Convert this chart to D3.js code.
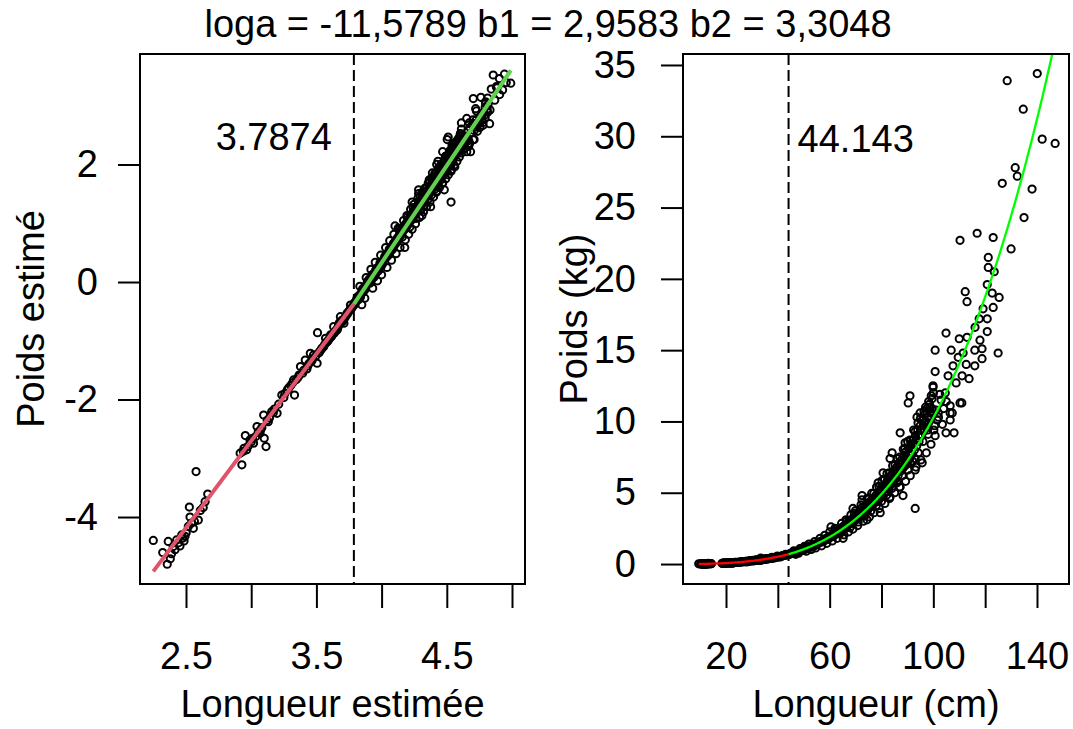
<!DOCTYPE html>
<html>
<head>
<meta charset="utf-8">
<script src="https://d3js.org/d3.v7.min.js"></script>
<style>
  body { margin: 0; background: #fff; }
  text { font-family: "Liberation Sans", Arial, sans-serif; font-size: 38px; fill: #000; }
</style>
</head>
<body>
<svg id="chart" width="1073" height="729"></svg>
<script>
// fish measurements: [length (cm), weight (kg)]
const fish = [
  // small fish
  [9.48,0.0123],[10.19,0.0100],[10.55,0.0082],[10.63,0.0121],[11.04,0.0111],[11.34,0.0124],[11.63,0.0112],
  [11.79,0.0135],[12.09,0.0132],[12.40,0.0156],[12.50,0.0217],[12.56,0.0183],[12.89,0.0151],[13.16,0.0397],
  [13.39,0.0174],[14.10,0.0238],[14.39,0.0271],[10.9,0.0098],[11.2,0.0105],[11.9,0.0128],[12.2,0.0140],
  [12.7,0.0165],[13.0,0.0170],[13.6,0.0205],[13.9,0.0215],[11.5,0.0118],[12.0,0.0122],[10.8,0.0090],
  [19.2,0.0733],[18.7,0.0445],[18.45,0.0543],[20.45,0.0644],[21.0,0.0855],[22.2,0.0700],[22.5,0.0608],
  [22.1,0.104],[23.5,0.110],[19.4,0.0575],[19.9,0.0680],[21.5,0.0763],[22.9,0.0927],[24.5,0.107],
  [18.9,0.0560],[19.6,0.0610],[20.1,0.0660],[20.8,0.0720],[21.2,0.0780],[21.8,0.0840],[22.7,0.0950],
  [23.1,0.0990],[23.8,0.1080],[20.3,0.0700],[21.6,0.0810],[19.0,0.0590],
  [25.4,0.146],[28.0,0.146],[27.8,0.189],[29.3,0.237],[30.4,0.265],[33.3,0.251],[32.4,0.289],[31.6,0.297],
  [33.4,0.422],[35.5,0.384],[35.0,0.332],[37.8,0.468],[39.8,0.554],[41.9,0.587],[40.9,0.496],[43.0,0.676],
  [38.8,0.442],[36.9,0.406],[26.5,0.160],[27.2,0.172],[28.8,0.198],[29.8,0.212],[31.0,0.240],[32.0,0.262],
  [34.0,0.308],[34.6,0.325],[36.2,0.370],[37.2,0.398],[38.2,0.430],[39.2,0.475],[40.2,0.520],[41.2,0.545],
  [42.3,0.600],[43.6,0.650],[42.8,0.620],[39.5,0.500],[37.5,0.410],[35.8,0.360],[30.8,0.228],[26.0,0.150],
  [24.0,0.115],[24.8,0.125],[25.8,0.140],[26.8,0.165],[27.6,0.180],[28.4,0.190],[29.0,0.205],[30.0,0.222],
  [31.3,0.250],[32.2,0.272],[33.0,0.285],[33.8,0.300],[34.4,0.318],[35.3,0.345],[36.0,0.362],[36.6,0.380],
  [37.0,0.392],[38.0,0.420],[38.5,0.440],[39.0,0.455],[40.0,0.500],[40.6,0.515],[41.5,0.560],[42.0,0.580],
  [42.6,0.610],[43.3,0.640],[44.0,0.670],
  // dense band
  [44.3,0.70],[44.8,0.72],[45.2,0.76],[45.7,0.74],[46.1,0.80],[46.6,0.82],[47.0,0.86],[47.4,0.84],
  [47.9,0.92],[48.3,0.90],[48.8,0.97],[49.2,0.99],[49.6,1.05],[50.1,1.02],[50.5,1.10],[50.9,1.06],
  [51.3,1.15],[51.8,1.12],[52.2,1.22],[52.6,1.18],[53.0,1.28],[53.5,1.24],[53.9,1.38],[54.4,1.30],
  [54.8,1.42],[55.2,1.40],[55.7,1.48],[56.1,1.55],[56.6,1.52],[57.0,1.62],[57.5,1.58],[57.9,1.75],
  [58.4,1.68],[58.8,1.80],[59.3,1.74],[59.7,1.92],[60.2,1.86],
  [60.8,2.00],[61.2,1.95],[61.7,2.12],[62.1,2.05],[62.6,2.25],[63.0,2.18],[63.5,2.40],[63.9,2.30],
  [64.4,2.52],[64.8,2.42],[65.3,2.65],[65.7,2.50],[66.2,2.75],[66.6,2.62],[67.1,2.90],[67.5,2.80],
  [68.0,3.05],[68.4,2.85],[68.9,3.20],[69.3,3.00],[69.8,3.35],[70.2,3.10],
  [70.6,3.45],[71.1,3.25],[71.5,3.60],[72.0,3.40],[72.4,3.75],[72.9,3.55],[73.3,3.95],[73.8,3.70],
  [74.2,4.10],[74.7,3.80],[75.1,4.30],[75.6,4.00],[76.0,4.45],[76.5,4.15],[76.9,4.60],[77.4,4.35],
  [77.8,4.80],[78.3,4.40],[78.7,5.00],[79.2,4.60],[79.6,5.20],[80.1,4.80],
  [80.5,5.40],[81.0,5.00],[81.4,5.60],[81.9,5.10],[82.3,5.85],[82.8,5.40],[83.2,6.10],[83.7,5.60],
  [84.1,6.30],[84.6,5.80],[85.0,6.60],[85.5,6.00],[85.9,6.80],[86.4,6.20],[86.8,7.10],[87.3,6.50],
  [87.7,7.30],[88.2,6.70],[88.6,7.60],[89.1,6.90],[89.5,7.90],[90.0,7.10],
  [90.4,8.10],[90.9,7.40],[91.3,8.40],[91.8,7.70],[92.2,8.70],[92.7,8.00],[93.1,9.00],[93.6,8.30],
  [94.0,9.40],[94.5,8.60],[94.9,9.70],[95.4,9.00],[95.8,10.1],[96.3,9.30],[96.7,10.5],[97.2,9.60],
  [97.6,10.9],[98.1,9.90],[98.5,11.2],[99.0,10.2],[99.5,11.6],[100.0,10.5],
  [44.6,0.69],[45.5,0.78],[46.4,0.77],[47.2,0.89],[48.1,0.88],[49.0,1.01],[49.9,0.98],[50.7,1.13],
  [51.6,1.09],[52.4,1.25],[53.3,1.21],[54.1,1.35],[55.0,1.36],[55.9,1.53],[56.8,1.58],[57.7,1.64],
  [58.6,1.77],[59.5,1.83],[60.4,1.98],[61.4,2.08],[62.3,2.15],[63.2,2.32],[64.2,2.38],[65.0,2.58],
  [66.0,2.68],[66.9,2.75],[67.9,2.98],[68.7,3.10],[69.6,3.25],[70.4,3.30],[71.3,3.50],[72.2,3.60],
  [73.1,3.78],[74.0,3.90],[74.9,4.10],[75.8,4.25],[76.7,4.38],[77.6,4.60],[78.5,4.75],[79.4,4.95],
  [80.3,5.10],[81.6,5.30],[82.5,5.55],[83.5,5.90],[84.4,6.00],[85.3,6.30],[86.2,6.55],[87.1,6.80],
  [88.0,7.00],[88.9,7.30],[89.8,7.50],[90.7,7.80],[91.6,8.10],[92.5,8.40],[93.4,8.70],[94.3,9.00],
  [95.2,9.40],[96.1,9.70],[97.0,10.0],[97.9,10.3],[98.9,10.7],
  [46.2,0.93],[46.9,0.68],[48.5,1.08],[48.0,0.76],[50.3,1.24],[51.0,0.90],[52.0,1.40],[52.9,1.02],
  [54.2,1.58],[54.6,1.13],[56.3,1.80],[56.9,1.28],[58.1,2.02],[58.9,1.45],[60.0,2.25],[61.0,1.62],
  [62.0,2.50],[62.9,1.80],[64.6,2.85],[65.5,2.05],[66.3,3.10],[67.2,2.25],[68.2,3.45],[69.0,2.45],
  [70.0,3.75],[70.8,2.70],[72.1,4.15],[73.0,3.00],[74.5,4.60],[75.3,3.30],[76.2,4.95],[77.1,3.60],
  [78.1,5.40],[79.1,3.90],[80.2,5.85],[81.3,4.25],[82.1,6.35],[83.1,4.60],[84.3,6.90],[85.1,5.00],
  [86.1,7.40],[87.0,5.40],[88.4,8.05],[89.3,5.80],[90.1,8.60],[91.1,6.20],[92.4,9.40],[93.3,6.80],
  [94.1,9.90],[95.2,7.30],[96.4,10.7],[97.3,7.80],[98.2,11.4],[99.1,8.40],
  [62.5,2.45],[64.0,2.15],[66.5,3.00],[67.8,2.55],[69.5,3.55],[71.0,2.95],[72.5,3.95],[73.5,3.35],
  [75.0,4.55],[75.8,3.70],[77.0,4.95],[78.0,4.10],[79.0,5.45],[80.0,4.40],[81.2,5.95],[82.0,4.85],
  [83.0,6.40],[84.0,5.30],[85.2,6.95],[86.0,5.70],[87.0,7.50],[88.0,6.20],[89.0,8.10],[90.2,6.60],
  [91.0,8.70],[92.0,7.20],[93.0,9.30],[94.2,7.80],[95.0,10.2],[96.0,8.60],[97.0,11.0],[98.0,9.10],
  [99.2,11.8],[100.5,9.70],
  [91,11.8],[90.3,11.3],[99.9,12.4],[111,11.3],[107.3,10.6],[106.5,10.1],[108,9.2],[104.9,9.2],
  [101.5,10.1],[100.7,9.0],[87.2,9.2],[93.7,10.3],[97.6,10.6],[89.1,8.5],[84.1,7.8],[83.3,7.4],
  [93,7.4],[95.7,7.1],[93,6.6],[91,7.1],[80.6,6.4],[78.7,5.7],[88.3,4.8],[93,3.9],[79.5,3.6],
  [72.5,4.8],[72.5,4.5],[83.3,4.7],[87.2,5.4],[69,3.9],[65.2,1.8],[60.5,2.6],[74.4,3.1],
  [101,10.8],[102,10.3],[103,11.5],[104,10.9],[102.5,11.9],[105,11.4],[100.2,9.4],[103.5,9.8],
  [98.8,10.6],[97.8,9.4],[96.5,9.9],[99.5,10.9],
  // large fish
  [121.2,21.5],[121.2,20.8],[123.5,20.5],[120.8,19.6],[112.3,19.1],[113,18.4],[122.7,19.0],[125.4,18.7],
  [123.1,18.0],[119.2,17.9],[120.8,17.2],[117.7,17.2],[116.1,16.6],[120.8,16.3],[104.9,16.2],[110,15.8],
  [113,15.9],[118,15.7],[118.8,15.1],[125,14.8],[100.7,15.0],[106.9,15.0],[111.5,14.8],[116,15.0],
  [118.8,14.4],[109.6,14.5],[116,13.9],[100.7,13.5],[107.6,13.9],[112.7,14.0],[105.7,13.2],[111.1,13.2],
  [113.8,13.0],[108.8,12.7],[99.9,12.5],[100,12.0],[104.6,12.0],[110.3,11.3],[106.5,11.1],[98.8,11.0],
  [101.9,10.6],[94.9,10.6],[106.5,10.6],
  [128.5,33.9],[140.1,34.4],[134.7,31.9],[142,29.8],[147,29.5],[131.6,27.8],[132.4,27.2],[126.6,26.7],
  [138.1,26.3],[135,24.3],[116.9,23.2],[110.3,22.7],[123.1,22.9],[130,22.1]
];

// segmented fit (from the title)
const loga = -11.5789, b1 = 2.9583, b2 = 3.3048;
const breakLog = 3.7874, breakCm = 44.143;
const titleText = "loga = -11,5789 b1 = 2,9583 b2 = 3,3048";

const leftXTicks = [2.5, 3, 3.5, 4, 4.5, 5];
const leftXLabels = [2.5, 3.5, 4.5];
const leftYTicks = [-4, -2, 0, 2];
const rightXTicks = [20, 40, 60, 80, 100, 120, 140];
const rightXLabels = [20, 60, 100, 140];
const rightYTicks = [0, 5, 10, 15, 20, 25, 30, 35];

function fitLog(x) {
  return x <= breakLog ? loga + b1 * x
                       : loga + b1 * breakLog + b2 * (x - breakLog);
}

const svg = d3.select("#chart");
const plotTop = 54, plotBottom = 584;

svg.append("text")
  .attr("x", 548).attr("y", 37)
  .attr("text-anchor", "middle")
  .text(titleText);

function panel(opt) {
  const x = d3.scaleLinear().domain(opt.xDomain).range([opt.left, opt.right]);
  const y = d3.scaleLinear().domain(opt.yDomain).range([plotBottom, plotTop]);
  const g = svg.append("g");

  g.append("clipPath").attr("id", opt.id)
    .append("rect")
    .attr("x", opt.left).attr("y", plotTop)
    .attr("width", opt.right - opt.left).attr("height", plotBottom - plotTop);

  const plot = g.append("g").attr("clip-path", "url(#" + opt.id + ")");

  // dashed breakpoint
  plot.append("line")
    .attr("x1", x(opt.brk)).attr("x2", x(opt.brk))
    .attr("y1", plotTop).attr("y2", plotBottom)
    .attr("stroke", "black").attr("stroke-width", 2)
    .attr("stroke-dasharray", "11,5");

  plot.selectAll("circle")
    .data(opt.points)
    .enter().append("circle")
    .attr("cx", d => x(d[0]))
    .attr("cy", d => y(d[1]))
    .attr("r", 3.6)
    .attr("fill", "none")
    .attr("stroke", "black")
    .attr("stroke-width", 2);

  const line = d3.line().x(d => x(d[0])).y(d => y(d[1]));
  plot.append("path")
    .attr("d", line(opt.lowLine))
    .attr("fill", "none").attr("stroke", opt.lowColor).attr("stroke-width", opt.lw);
  plot.append("path")
    .attr("d", line(opt.highLine))
    .attr("fill", "none").attr("stroke", opt.highColor).attr("stroke-width", opt.lw);

  // box
  g.append("rect")
    .attr("x", opt.left).attr("y", plotTop)
    .attr("width", opt.right - opt.left).attr("height", plotBottom - plotTop)
    .attr("fill", "none").attr("stroke", "black").attr("stroke-width", 2);

  const xAxis = g.append("g")
    .attr("transform", "translate(0," + plotBottom + ")")
    .call(d3.axisBottom(x).tickValues(opt.xTicks).tickSize(24).tickPadding(34)
      .tickFormat(d => opt.xLabels.includes(d) ? String(d) : ""));
  const yAxis = g.append("g")
    .attr("transform", "translate(" + opt.left + ",0)")
    .call(d3.axisLeft(y).tickValues(opt.yTicks).tickSize(22).tickPadding(opt.yPad)
      .tickFormat(d => d < 0 ? "-" + Math.abs(d) : String(d)));
  [xAxis, yAxis].forEach(a => {
    a.select(".domain").remove();
    a.selectAll("line").attr("stroke", "black").attr("stroke-width", 2);
    a.selectAll("text").attr("fill", "#000");
    a.attr("font-size", null).attr("font-family", null);
  });

  g.append("text")
    .attr("x", (opt.left + opt.right) / 2).attr("y", 717)
    .attr("text-anchor", "middle")
    .text(opt.xTitle);
  g.append("text")
    .attr("transform", "translate(" + (opt.left - 96) + "," + ((plotTop + plotBottom) / 2) + ") rotate(-90)")
    .attr("text-anchor", "middle")
    .text(opt.yTitle);

  g.append("text")
    .attr("x", x(opt.brk) + opt.noteDx).attr("y", opt.noteY)
    .attr("text-anchor", opt.noteAnchor)
    .text(opt.note);
}

// left panel: log scale
const logPts = fish.map(d => [Math.log(d[0]), Math.log(d[1])]);
const logXs = logPts.map(d => d[0]).sort(d3.ascending);
const lxMin = logXs[0], lxMax = logXs[logXs.length - 1];

panel({
  id: "clipL", left: 140, right: 525,
  xDomain: [2.1472, 5.0997], yDomain: [-5.14, 3.881],
  points: logPts, brk: breakLog,
  lowLine: [[lxMin, fitLog(lxMin)], [breakLog, fitLog(breakLog)]],
  highLine: [[breakLog, fitLog(breakLog)], [lxMax, fitLog(lxMax)]],
  lowColor: "#DF536B", highColor: "#61D04F", lw: 4, yPad: 20,
  xTicks: leftXTicks, xLabels: leftXLabels, yTicks: leftYTicks,
  xTitle: "Longueur estimée", yTitle: "Poids estimé",
  note: "3.7874", noteDx: -22, noteY: 150, noteAnchor: "end"
});

// right panel: natural scale
const cms = fish.map(d => d[0]).sort(d3.ascending);
const lowCm = cms.filter(c => c <= breakCm).concat([breakCm]);
const highCm = [breakCm].concat(cms.filter(c => c > breakCm));

panel({
  id: "clipR", left: 683, right: 1069,
  xDomain: [3.41, 152.35], yDomain: [-1.40, 35.77],
  points: fish, brk: breakCm,
  lowLine: lowCm.map(c => [c, Math.exp(fitLog(Math.log(c)))]),
  highLine: highCm.map(c => [c, Math.exp(fitLog(Math.log(c)))]),
  lowColor: "#FF0000", highColor: "#00FF00", lw: 2.3, yPad: 25,
  xTicks: rightXTicks, xLabels: rightXLabels, yTicks: rightYTicks,
  xTitle: "Longueur (cm)", yTitle: "Poids (kg)",
  note: "44.143", noteDx: 9, noteY: 152, noteAnchor: "start"
});
</script>
</body>
</html>
